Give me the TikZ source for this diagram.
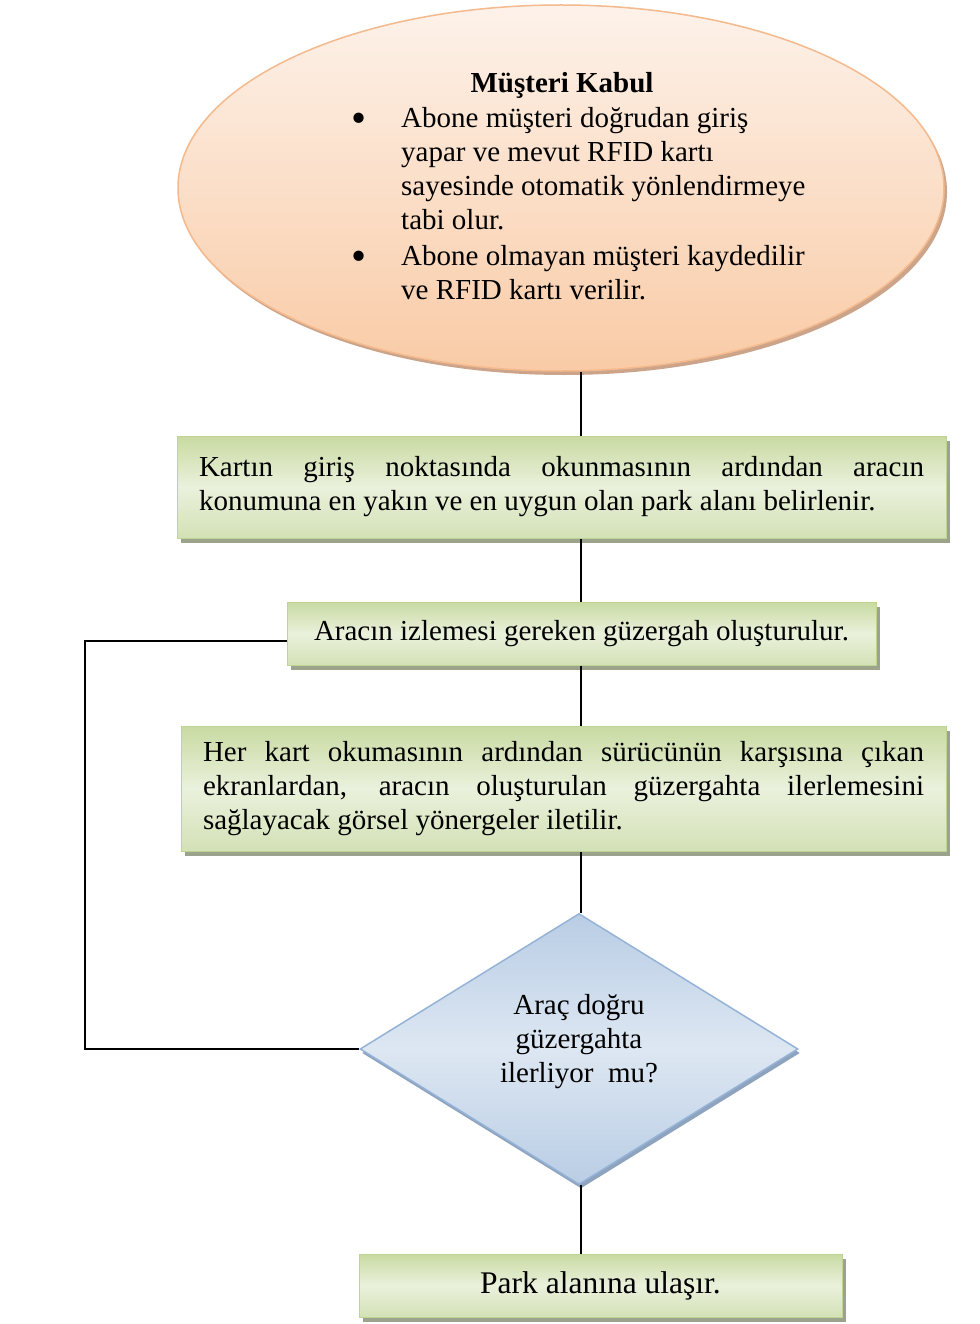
\documentclass[tikz,border=0pt]{standalone}
\usepackage{fontspec}
\setmainfont{Liberation Serif}
\usetikzlibrary{shapes.geometric,shadows}
\definecolor{g1}{HTML}{C9DAA2}
\definecolor{g2}{HTML}{EAF1DC}
\definecolor{g3}{HTML}{D3E1B6}
\definecolor{gborder}{HTML}{BFD393}
\definecolor{gshadow}{HTML}{9CA38C}
\definecolor{p1}{HTML}{FDF2EA}
\definecolor{p2}{HTML}{F9CBA6}
\definecolor{pborder}{HTML}{F4B98C}
\definecolor{pshadow}{HTML}{CBA48A}
\definecolor{b1c}{HTML}{B9CDE5}
\definecolor{b2c}{HTML}{DDE7F2}
\definecolor{bborder}{HTML}{95B3D7}
\definecolor{bshadow}{HTML}{8EA3BD}
\newcommand{\bigbul}{\raisebox{-5pt}{\fontsize{43}{34}\selectfont\textbullet}}
\begin{document}
\begin{tikzpicture}[x=1pt,y=-1pt,
  txt/.style={font=\fontsize{29}{34}\selectfont},
  conn/.style={draw=black, line width=1.2pt},
  gbox/.style={rectangle, draw=gborder, line width=1pt, top color=g1, bottom color=g3, middle color=g2,
    drop shadow={shadow xshift=4pt, shadow yshift=-5pt, fill=gshadow, opacity=1},
    txt, inner sep=0pt},
  ellbox/.style={ellipse, draw=pborder, line width=1.5pt, top color=p1, bottom color=p2,
    drop shadow={shadow xshift=3pt, shadow yshift=-4pt, fill=pshadow, opacity=1}, inner sep=0pt},
  decbox/.style={diamond, draw=bborder, line width=1.5pt, top color=b1c, bottom color=b1c, middle color=b2c,
    drop shadow={shadow xshift=2pt, shadow yshift=-4pt, fill=bshadow, opacity=1}, inner sep=0pt}
]
\useasboundingbox[fill=white] (0,0) rectangle (979,1324);

% start ellipse
\node[ellbox, minimum width=766pt, minimum height=366pt] (ell) at (561,188) {};
\node[txt, anchor=base, font=\fontsize{29}{34}\selectfont\bfseries] (title) at (562,93) {Müşteri Kabul};
\node[txt, anchor=base west, inner sep=0pt] (list) at (351.5,128) {%
\begin{tabular}[t]{@{}p{49.5pt}@{}l@{}}
\bigbul & Abone müşteri doğrudan giriş\\
 & yapar ve mevut RFID kartı\\
 & sayesinde otomatik yönlendirmeye\\
 & tabi olur.\\[2pt]
\bigbul & Abone olmayan müşteri kaydedilir\\
 & ve RFID kartı verilir.
\end{tabular}};

% process boxes
\node[gbox, minimum width=769pt, minimum height=102pt, text width=725pt, align=justify] (b1) at (561.5,487)
 {Kartın giriş noktasında okunmasının ardından aracın\linebreak konumuna en yakın ve en uygun olan park alanı belirlenir.};
\node[gbox, minimum width=589pt, minimum height=63pt] (b2) at (581.5,633.5)
 {Aracın izlemesi gereken güzergah oluşturulur.};
\node[gbox, minimum width=765pt, minimum height=125pt, text width=721pt, align=justify] (b3) at (563.5,788.5)
 {Her kart okumasının ardından sürücünün karşısına çıkan\linebreak ekranlardan, aracın oluşturulan güzergahta ilerlemesini\linebreak sağlayacak görsel yönergeler iletilir.};
\node[decbox, minimum width=438pt, minimum height=271pt] (dia) at (579,1049) {};
\node[txt, align=center, inner sep=0pt] (diatext) at (579,1042) {Araç doğru\\güzergahta\\ilerliyor\ \ mu?};
\node[gbox, minimum width=483pt, minimum height=63pt, font=\fontsize{31.5}{36}\selectfont] (b4) at (600.5,1285.5)
 {Park alanına ulaşır.};

% connectors
\coordinate (sp) at (581,0);
\coordinate (fb) at (85,641);
\draw[conn] (sp |- ell.south) -- (sp |- b1.north);
\draw[conn] (sp |- b1.south) -- (sp |- b2.north);
\draw[conn] (sp |- b2.south) -- (sp |- b3.north);
\draw[conn] (sp |- b3.south) -- (sp |- dia.north);
\draw[conn] (sp |- dia.south) -- (sp |- b4.north);
\draw[conn] (dia.west) -| (fb) -- (fb -| b2.west);
\end{tikzpicture}
\end{document}
